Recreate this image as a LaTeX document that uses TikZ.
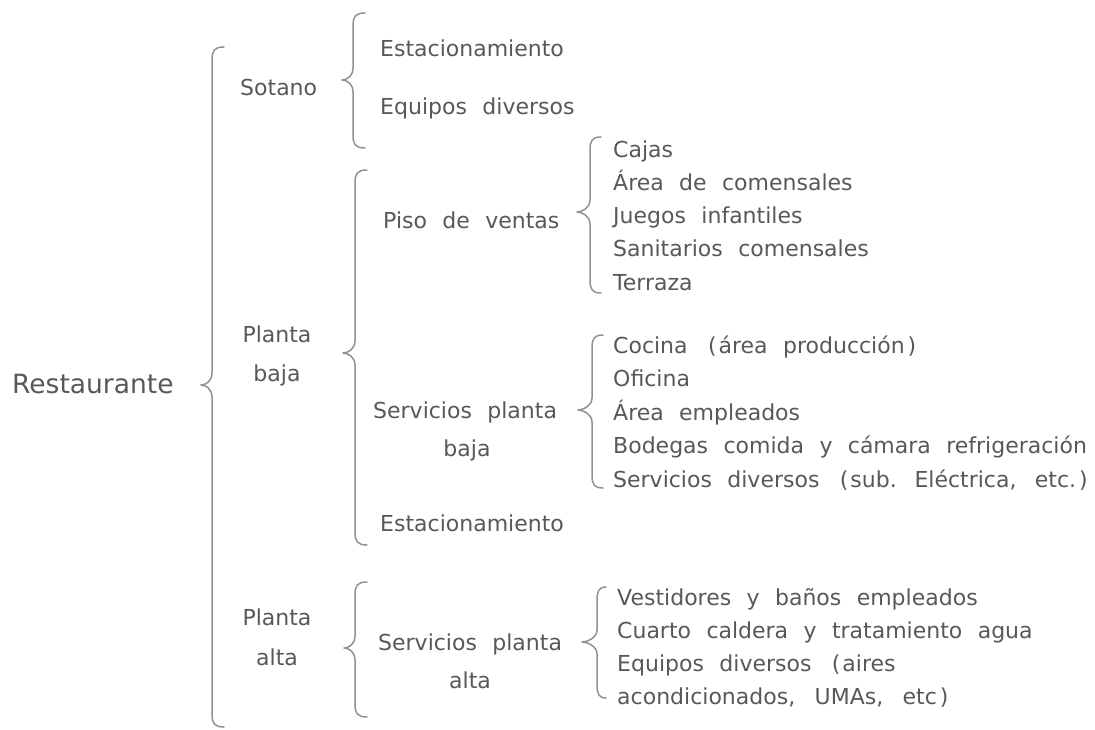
\documentclass[tikz,border=0pt]{standalone}
\usepackage{fontspec}
\setmainfont{DejaVu Sans}[WordSpace=2.2]
\definecolor{txtgray}{RGB}{88,88,88}
\definecolor{brgray}{RGB}{145,145,145}
\newcommand\mybrace[6]{% x, top, mid, bottom, tip depth, end length
  \draw[bracestyle] ({#1+#6},#2) .. controls ({#1+2},#2) and (#1,{#2+4}) .. (#1,{#2+13})
    -- (#1,{#3-12}) .. controls (#1,{#3-4}) and ({#1-#5+5},#3) .. ({#1-#5},#3)
    .. controls ({#1-#5+5},#3) and (#1,{#3+4}) .. (#1,{#3+12})
    -- (#1,{#4-13}) .. controls (#1,{#4-4}) and ({#1+2},#4) .. ({#1+#6},#4);}
\newcommand\lp{\kern5pt(\kern2pt}
\newcommand\rp{\kern3pt)}
\begin{document}
\begin{tikzpicture}[x=1pt,y=-1pt,
  txt/.style={font=\fontsize{22}{33}\selectfont, text=txtgray, inner sep=0pt, anchor=base west},
  txtc/.style={txt, anchor=base},
  bracestyle/.style={draw=brgray, line width=1.5pt, line cap=round, line join=round}]
\useasboundingbox (0,0) rectangle (1095,730);
% level 0
\node[txt, font=\fontsize{26.5}{30}\selectfont] (rest) at (12,393) {Restaurante};
% level 1
\node[txt] (sot) at (240,96) {Sotano};
\node[txtc] (pb1) at (277,342) {Planta};
\node[txtc] (pb2) at (277,381) {baja};
\node[txtc] (pa1) at (277,625) {Planta};
\node[txtc] (pa2) at (277,665) {alta};
% level 2
\node[txt] (est1) at (380,57) {Estacionamiento};
\node[txt] (eqd) at (380,115) {Equipos diversos};
\node[txt] (piso) at (383,229) {Piso de ventas};
\node[txt] (spb1) at (373,418) {Servicios planta};
\node[txtc] (spb2) at (467,456) {baja};
\node[txt] (est2) at (380,531) {Estacionamiento};
\node[txt] (spa1) at (378,650) {Servicios planta};
\node[txtc] (spa2) at (470,688) {alta};
% level 3: piso de ventas
\node[txt] (p1) at (613,158) {Cajas};
\node[txt] (p2) at (613,191) {Área de comensales};
\node[txt] (p3) at (613,224) {Juegos infantiles};
\node[txt] (p4) at (613,257) {Sanitarios comensales};
\node[txt] (p5) at (613,290) {Terraza};
% level 3: servicios planta baja
\node[txt] (b1) at (613,353) {Cocina \lp área producción\rp};
\node[txt] (b2) at (613,386.5) {Oficina};
\node[txt] (b3) at (613,420) {Área empleados};
\node[txt] (b4) at (613,453.5) {Bodegas comida y cámara refrigeración};
\node[txt] (b5) at (613,487) {Servicios diversos \lp sub. Eléctrica,\kern3pt{} etc.\rp};
% level 3: servicios planta alta
\node[txt] (a1) at (617,605) {Vestidores y baños empleados};
\node[txt] (a2) at (617,638) {Cuarto caldera y tratamiento agua};
\node[txt] (a3) at (617,671) {Equipos diversos \lp aires};
\node[txt] (a4) at (617,704) {acondicionados,\kern4pt{} UMAs,\kern4pt{} etc\rp};
% braces
\mybrace{212}{47}{385}{727}{11}{12}
\mybrace{353}{13}{80}{148}{11}{12}
\mybrace{355}{170}{353}{545}{12}{12}
\mybrace{590}{137}{212}{293}{13}{11}
\mybrace{592}{335}{410}{488}{14}{11}
\mybrace{355}{582}{648}{717}{11}{12}
\mybrace{597}{587}{642}{698}{15}{9}
\end{tikzpicture}
\end{document}
